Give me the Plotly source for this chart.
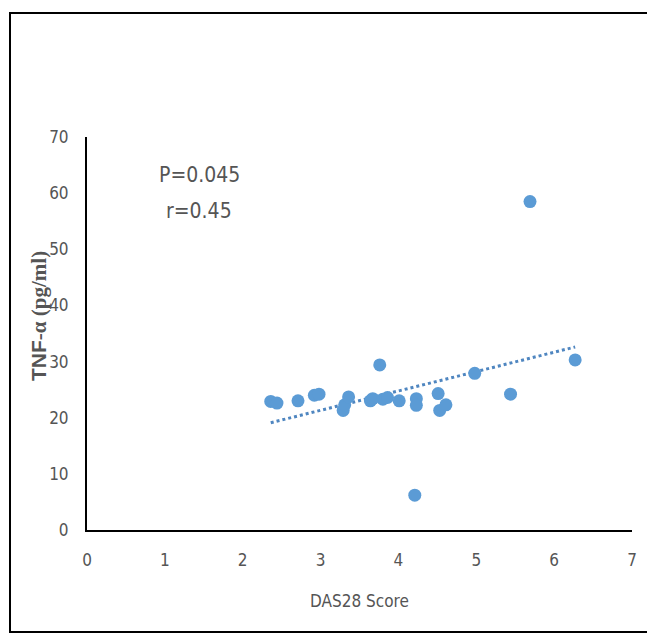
import numpy as np
import plotly.graph_objects as go

das28 = [2.36, 2.44, 2.71, 2.92, 2.98, 3.29, 3.31, 3.36, 3.64, 3.67, 3.76, 3.80, 3.86,
         4.01, 4.23, 4.23, 4.21, 4.51, 4.53, 4.61, 4.98, 5.44, 5.69, 6.27]
tnf = [22.9, 22.6, 23.0, 24.0, 24.2, 21.3, 22.3, 23.7, 23.0, 23.4, 29.4, 23.3, 23.6,
       23.0, 23.4, 22.2, 6.2, 24.3, 21.3, 22.3, 27.9, 24.2, 58.5, 30.3]
x_ticks = [0, 1, 2, 3, 4, 5, 6, 7]
y_ticks = [0, 10, 20, 30, 40, 50, 60, 70]
stats_text = ["P=0.045", "r=0.45"]
x_title = "DAS28 Score"
y_title = "<b>TNF</b><b><span style='font-family:Liberation Serif, Times New Roman, serif'>-α (pg/ml)</span></b>"

slope, intercept = np.polyfit(das28, tnf, 1)
tx = [min(das28), max(das28)]
ty = [slope * v + intercept for v in tx]

OFF = 8  # page body margin
W, H = 655 - OFF, 642 - OFF
# target plot area in window pixels
PL, PR, PT, PB = 87, 632, 137, 530
L, T = PL - OFF, PT - OFF
R, B = W - (PR - OFF), H - (PB - OFF)
pw, ph = PR - PL, PB - PT


def px(xw):
    return (xw - PL) / pw


def py(yw):
    return (PB - yw) / ph


SANS = "DejaVu Sans Condensed, Liberation Sans Narrow, Arial Narrow, sans-serif"
GRAY = "#555555"
tickfont = dict(family=SANS, size=17, color=GRAY)

fig = go.Figure()
fig.add_trace(go.Scatter(x=tx, y=ty, mode="lines",
                         line=dict(color="#4F86C0", width=3, dash="dot"),
                         hoverinfo="skip", showlegend=False))
fig.add_trace(go.Scatter(x=das28, y=tnf, mode="markers",
                         marker=dict(color="#5B9BD5", size=13),
                         showlegend=False))

fig.update_layout(
    width=W, height=H,
    margin=dict(l=L, r=R, t=T, b=B),
    plot_bgcolor="white", paper_bgcolor="white",
    xaxis=dict(range=[0, 7], tickvals=x_ticks, showgrid=False, zeroline=False,
               showline=True, linecolor="black", linewidth=2, ticks="",
               tickfont=tickfont, ticklabelstandoff=14,
               title=dict(text=x_title, standoff=26,
                          font=dict(family=SANS, size=17, color=GRAY))),
    yaxis=dict(range=[0, 70], tickvals=y_ticks, showgrid=False, zeroline=False,
               showline=True, linecolor="black", linewidth=2, ticks="",
               tickfont=tickfont, ticklabelstandoff=13),
    shapes=[dict(type="rect", xref="paper", yref="paper",
                 x0=px(10), x1=px(653), y0=py(632), y1=py(13),
                 line=dict(color="black", width=2), fillcolor="rgba(0,0,0,0)")],
    annotations=[
        dict(x=px(39), y=py(316), xref="paper", yref="paper",
             xanchor="center", yanchor="middle",
             text=y_title, showarrow=False, textangle=-90,
             font=dict(family="Liberation Sans, Arial, sans-serif", size=21, color=GRAY)),
        dict(x=px(199), y=py(175), xref="paper", yref="paper",
             xanchor="center", yanchor="middle",
             text=stats_text[0], showarrow=False,
             font=dict(family=SANS, size=21, color=GRAY)),
        dict(x=px(199), y=py(211), xref="paper", yref="paper",
             xanchor="center", yanchor="middle",
             text=stats_text[1], showarrow=False,
             font=dict(family=SANS, size=21, color=GRAY)),
    ],
)
fig.write_html("out.html")
